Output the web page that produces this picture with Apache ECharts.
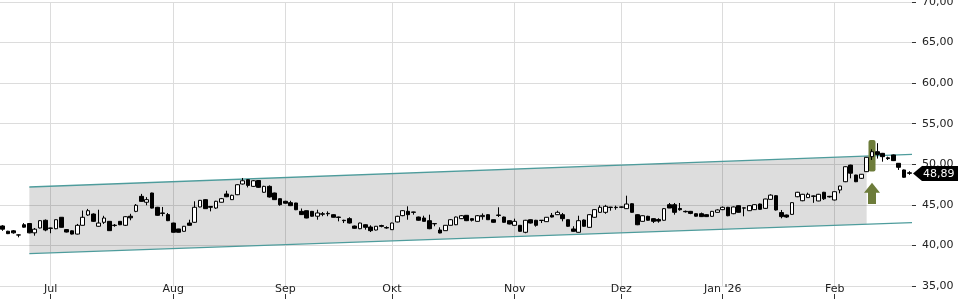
<!DOCTYPE html>
<html>
<head>
<meta charset="utf-8">
<script src="https://cdn.jsdelivr.net/npm/echarts@6/dist/echarts.min.js"></script>
<style>
html,body{margin:0;padding:0;background:#fff;}
#chart{width:960px;height:300px;}
</style>
</head>
<body>
<div id="chart"></div>
<script>
// ---- categories (trading days) ----
const monthKeys = ['2025-06','2025-07','2025-08','2025-09','2025-10','2025-11','2025-12','2026-01','2026-02'];
const monthDays = [
  [18,19,20,23,24,25,26,27,30],
  [1,2,3,4,7,8,9,10,11,14,15,16,17,18,21,22,23,24,25,28,29,30,31],
  [1,4,5,6,7,8,11,12,13,14,15,18,19,20,21,22,25,26,27,28,29],
  [1,2,4,5,8,9,10,11,12,15,16,17,18,19,22,23,25,26,29,30],
  [1,2,3,6,7,8,9,10,13,14,15,16,17,20,21,22,23,24,27,28,29,30,31],
  [3,4,5,6,7,10,11,12,13,14,17,18,19,20,21,24,25,26,27,28],
  [1,2,3,4,5,8,9,10,11,12,15,16,17,18,19,22,23,29,30],
  [2,5,6,7,8,9,12,13,14,15,16,19,20,21,22,23,26,27,28,29,30],
  [2,3,4,5,6,9,10,11,12,13,16,17,18,19,20]
];
const monthLabels = ['', 'Jul', 'Aug', 'Sep', 'Okt', 'Nov', 'Dez', "Jan '26", 'Feb'];

// ---- OHLC values ----
const opens = [
42.4,41.75,41.8,41.3,42.55,42.7,41.55,42.15,43.1,42.15,42.06,43.47,41.95,41.8,41.4,42.48,43.75,43.87,42.36,42.85,
42.97,42.5,42.97,42.48,43.6,44.2,46.05,45.32,46.46,44.7,44.0,43.8,42.76,42.03,41.74,42.76,42.85,44.74,45.64,44.8,
44.61,45.32,46.34,45.64,46.25,47.57,48.1,47.28,48.0,46.55,47.28,46.46,45.76,45.44,45.27,45.23,44.2,44.28,44.2,43.6,
43.9,43.95,43.79,43.5,43.1,43.3,42.39,42.06,42.55,42.27,41.9,42.45,42.2,41.94,42.89,43.67,44.2,44.12,43.5,43.38,
43.05,42.7,41.9,41.82,42.48,42.55,43.3,43.71,43.3,42.97,43.55,43.79,43.17,43.75,43.5,43.05,42.48,42.48,41.62,43.17,
43.1,43.1,42.93,43.71,43.79,43.79,43.17,42.03,41.62,43.13,42.23,43.47,44.08,44.08,44.72,44.7,44.75,44.53,45.14,43.79,
42.97,43.59,43.3,43.2,43.1,45.02,45.02,44.55,44.2,44.2,43.91,43.91,43.79,43.59,44.08,44.41,44.7,43.91,44.9,44.63,
44.28,44.41,45.1,44.57,45.68,46.13,44.05,43.75,43.83,46.0,45.51,45.89,46.1,45.48,46.55,46.05,45.6,46.83,47.85,49.9,
48.68,48.27,49.09,50.94,51.55,51.35,50.8,51.15,50.12,49.3,48.95];
const closes = [
42.0,41.45,41.55,41.28,42.25,41.55,42.0,43.05,41.9,42.1,43.17,42.23,41.65,41.4,42.48,43.47,44.28,42.97,42.76,43.38,
41.82,42.45,42.55,43.54,43.4,44.95,45.43,45.64,44.6,43.71,43.95,43.05,41.62,41.62,42.36,42.48,44.7,45.56,44.53,44.7,
45.44,45.76,46.0,46.18,47.48,47.97,47.4,47.97,47.16,47.28,45.97,45.64,45.02,45.2,44.9,44.4,43.8,43.38,43.6,44.0,
43.85,43.9,43.47,43.45,43.05,42.76,42.11,42.76,42.23,41.82,42.36,42.35,42.15,42.76,43.59,44.28,43.79,44.08,43.1,42.97,
42.06,42.66,41.53,42.48,43.17,43.5,43.66,43.05,43.1,43.66,43.7,43.17,42.85,43.7,42.85,42.64,42.97,41.74,43.1,42.76,
42.48,43.08,43.47,43.5,44.08,43.3,42.36,41.74,43.05,42.36,43.79,44.41,44.7,44.82,44.68,44.66,44.7,45.1,44.08,42.55,
43.66,43.1,42.97,43.0,44.53,44.61,44.08,44.4,44.15,43.95,43.6,43.55,43.55,44.2,44.37,44.7,43.66,44.74,44.08,44.6,
44.9,45.02,44.45,45.72,46.2,44.37,43.55,43.5,45.27,46.55,46.3,46.3,46.05,46.3,45.75,45.98,46.62,47.32,49.7,48.9,
47.85,48.77,50.86,51.55,51.2,50.94,50.7,50.45,49.63,48.4,48.89];
const lows = [
41.8,41.4,41.45,41.0,42.2,41.5,41.2,42.1,41.75,41.5,42.0,42.2,41.6,41.35,41.35,42.45,43.65,42.9,42.3,42.65,
41.8,42.3,42.5,42.4,43.1,44.1,45.4,44.95,44.55,43.65,43.6,43.0,41.6,41.6,41.7,42.45,42.8,44.7,44.5,44.2,
44.5,45.3,45.95,45.6,46.2,47.5,47.15,47.2,47.1,46.5,45.9,45.6,44.9,45.15,44.85,44.35,43.75,43.35,43.55,43.17,
43.6,43.6,43.45,42.97,42.76,42.7,42.05,42.0,41.94,41.65,41.85,42.23,42.06,41.9,42.85,43.6,43.17,43.79,43.05,42.95,
42.0,42.36,41.5,41.8,42.45,42.5,43.25,43.0,42.95,42.95,43.17,43.15,42.8,43.5,42.8,42.6,42.45,41.7,41.5,42.7,
42.31,42.76,42.9,43.45,43.75,42.97,42.3,41.7,41.6,42.3,42.2,43.4,44.0,43.9,44.28,44.4,44.6,44.5,44.05,42.5,
42.95,43.05,42.76,42.8,43.05,44.6,43.79,44.28,44.05,43.85,43.55,43.5,43.5,43.55,44.05,44.35,43.6,43.85,44.05,43.59,
44.25,44.37,44.4,44.5,45.65,44.3,43.34,43.4,43.8,45.95,45.45,45.85,45.25,45.45,45.6,45.9,45.55,46.42,47.8,48.27,
47.8,48.2,49.05,50.53,50.7,50.32,50.53,50.4,49.3,48.35,48.7];
const highs = [
42.5,41.8,41.9,41.35,42.75,42.75,42.15,43.1,43.2,42.2,43.2,43.5,42.0,41.85,42.65,44.3,44.5,43.95,44.4,43.65,
43.0,42.64,43.0,43.6,43.9,45.1,46.35,45.95,46.5,44.75,44.74,44.0,42.8,42.05,42.4,43.17,45.44,45.6,45.7,44.85,
45.5,45.85,46.74,46.25,47.55,48.31,48.15,48.05,48.05,47.35,47.4,46.5,45.8,45.5,45.5,45.25,44.55,44.3,44.25,44.4,
44.12,44.2,43.85,43.55,43.17,43.47,42.45,42.8,42.6,42.48,42.4,42.55,42.36,42.8,43.65,44.35,44.82,44.15,43.55,43.66,
43.79,42.72,42.23,42.5,43.25,43.55,43.75,43.75,43.35,43.75,43.95,43.85,43.2,44.7,43.55,43.1,43.3,42.5,43.15,43.2,
43.15,43.12,43.5,44.0,44.28,44.0,43.2,42.36,43.66,43.2,43.85,44.45,44.95,45.0,44.75,44.9,44.8,46.13,45.2,43.85,
43.7,43.65,43.35,43.35,44.6,45.23,45.23,45.23,44.3,44.25,43.95,44.05,43.85,44.25,44.45,44.8,44.75,44.8,44.95,44.65,
44.95,45.07,45.15,45.75,46.3,46.2,44.37,43.8,45.3,46.6,46.35,46.5,46.15,46.35,46.6,46.1,46.65,47.35,49.75,49.95,
48.7,48.8,50.9,51.85,52.6,51.4,50.94,51.2,50.15,49.35,49.15];

// ---- trend channel (category index, upper, lower) and signal ----
const channelStart = [5, 47.2, 39.0];
const channelEnd = [170, 51.2, 42.8];
const channelFillEndIdx = 162;
const signalIdx = 163;
const signalBar = [49.1, 53.0];
const signalArrow = [47.73, 45.1];

// ---- build ----
const categories = [];
const monthStartIdx = [];
const monthStartLabel = {};
monthKeys.forEach((mk, m) => {
  monthDays[m].forEach((d, k) => {
    if (k === 0 && categories.length > 0) {
      monthStartIdx.push(categories.length);
      monthStartLabel[categories.length] = monthLabels[m];
    }
    categories.push(mk + '-' + String(d).padStart(2, '0'));
  });
});
const ohlc = opens.map((o, i) => [o, closes[i], lows[i], highs[i]]);
const lastIdx = closes.length - 1;
const lastClose = closes[lastIdx];
const fmt = v => v.toFixed(2).replace('.', ',');
const isMonthStart = i => monthStartLabel[i] !== undefined;
const FONT = 'DejaVu Sans';

const chart = echarts.init(document.getElementById('chart'), null, {renderer: 'canvas'});
chart.setOption({
  animation: false,
  backgroundColor: '#fff',
  grid: {left: 0, right: 48, top: 2, bottom: 14, containLabel: false, outerBoundsMode: 'none'},
  xAxis: {
    type: 'category',
    data: categories,
    boundaryGap: true,
    offset: 8,
    axisLine: {show: false},
    axisTick: {show: true, alignWithLabel: true, interval: i => isMonthStart(i), length: 5, lineStyle: {color: '#333'}},
    axisLabel: {
      interval: i => isMonthStart(i),
      formatter: (v, i) => monthStartLabel[i] || '',
      margin: -10, color: '#222', fontSize: 11, fontFamily: FONT, hideOverlap: false
    },
    splitLine: {show: false}
  },
  yAxis: {
    type: 'value', position: 'right', min: 35, max: 70, interval: 5, scale: false,
    axisLine: {show: false},
    axisTick: {show: true, length: 4, lineStyle: {color: '#333'}},
    axisLabel: {margin: 10, formatter: v => fmt(v), color: '#222', fontSize: 11, fontFamily: FONT, showMinLabel: true, showMaxLabel: true},
    splitLine: {lineStyle: {color: '#dcdcdc', width: 1}}
  },
  series: [
    {
      type: 'custom', name: 'channel', z: 1.5, silent: true, clip: false,
      encode: {x: 0, y: [1, 2]},
      data: [[channelStart[0], channelStart[1], channelStart[2], channelEnd[0], channelEnd[1], channelEnd[2], channelFillEndIdx]],
      renderItem: (params, api) => {
        const cs = params.coordSys;
        const A = api.coord([api.value(0), api.value(1)]);
        const C = api.coord([api.value(0), api.value(2)]);
        const B = api.coord([api.value(3), api.value(4)]);
        const D = api.coord([api.value(3), api.value(5)]);
        const at = (P, Q, x) => P[1] + (Q[1] - P[1]) * (x - P[0]) / (Q[0] - P[0]);
        const xr = cs.x + cs.width;
        const xF = api.coord([api.value(6), api.value(1)])[0];
        const line = {stroke: '#4e9c9c', lineWidth: 1.3, fill: null};
        return {type: 'group', children: [
          {type: 'polygon', shape: {points: [A, [xF, at(A, B, xF)], [xF, at(C, D, xF)], C]}, style: {fill: 'rgba(0,0,0,0.135)'}},
          {type: 'polyline', shape: {points: [A, [xr, at(A, B, xr)]]}, style: line},
          {type: 'polyline', shape: {points: [C, [xr, at(C, D, xr)]]}, style: line}
        ]};
      }
    },
    {
      type: 'custom', name: 'signal', z: 1.8, silent: true, clip: false,
      encode: {x: 0, y: [1, 2]},
      data: [[signalIdx, signalBar[0], signalBar[1], signalArrow[0], signalArrow[1]]],
      renderItem: (params, api) => {
        const b0 = api.coord([api.value(0), api.value(1)]);
        const b1 = api.coord([api.value(0), api.value(2)]);
        const t = api.coord([api.value(0), api.value(3)]);
        const e = api.coord([api.value(0), api.value(4)]);
        const x = b0[0];
        const col = '#6d7c3a';
        const hh = 10;
        return {type: 'group', children: [
          {type: 'rect', shape: {x: x - 3.5, y: b1[1], width: 7, height: b0[1] - b1[1], r: 2}, style: {fill: col}},
          {type: 'polygon', shape: {points: [[x, t[1]], [x + 8, t[1] + hh], [x + 4, t[1] + hh], [x + 4, e[1]], [x - 4, e[1]], [x - 4, t[1] + hh], [x - 8, t[1] + hh]]}, style: {fill: col}}
        ]};
      }
    },
    {
      type: 'candlestick', name: 'kurs', z: 2,
      data: ohlc,
      barWidth: 4,
      silent: true,
      itemStyle: {color: '#ffffff', color0: '#000000', borderColor: '#000000', borderColor0: '#000000', borderColorDoji: '#000000', borderWidth: 1},
      markLine: {
        silent: true, z: 1, animation: false,
        symbol: ['none', 'none'],
        label: {show: false},
        lineStyle: {color: '#dcdcdc', type: 'solid', width: 1},
        emphasis: {disabled: true},
        data: monthStartIdx.map(i => ({xAxis: categories[i]}))
      }
    },
    {
      type: 'custom', name: 'lastPrice', z: 10, silent: true, clip: false,
      encode: {x: 0, y: 1},
      data: [[lastIdx, lastClose]],
      renderItem: (params, api) => {
        const cs = params.coordSys;
        const p = api.coord([api.value(0), api.value(1)]);
        const x = cs.x + cs.width + 1;
        const y = Math.round(p[1]) + 0.5;
        return {type: 'group', children: [
          {type: 'polygon', shape: {points: [[x, y], [x + 9, y - 7.5], [x + 45, y - 7.5], [x + 45, y + 7.5], [x + 9, y + 7.5]]}, style: {fill: '#000'}},
          {type: 'text', style: {text: fmt(api.value(1)), x: x + 10, y: y + 0.5, fill: '#fff', font: '11px "DejaVu Sans"', align: 'left', verticalAlign: 'middle'}}
        ]};
      }
    }
  ]
});
</script>
</body>
</html>
